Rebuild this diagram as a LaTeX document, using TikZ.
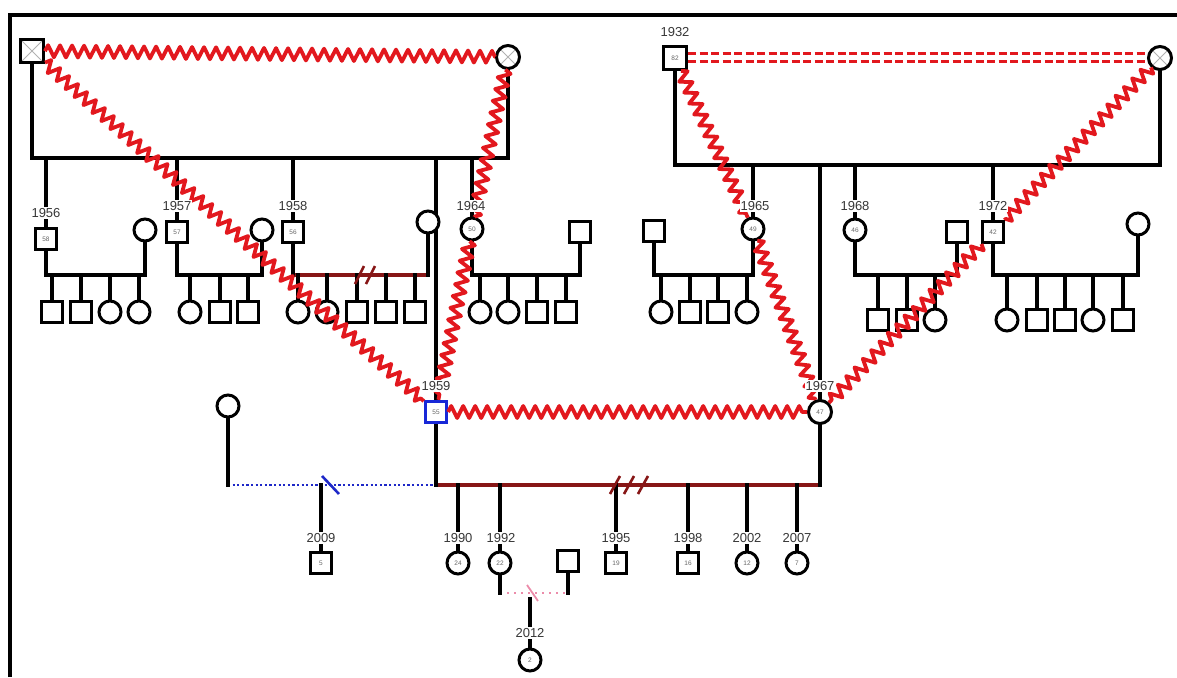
\documentclass[tikz,border=0pt]{standalone}
\usepackage{fontspec}
\setmainfont{Liberation Sans}
\usetikzlibrary{decorations.pathmorphing,calc}
\pgfdeclarelayer{bg}
\pgfdeclarelayer{fg}
\pgfsetlayers{bg,main,fg}
\definecolor{zzred}{RGB}{226,24,30}
\definecolor{dred}{RGB}{135,22,22}
\definecolor{idxblue}{RGB}{24,40,215}
\definecolor{exblue}{RGB}{30,40,200}
\definecolor{pinkl}{RGB}{236,140,170}
\definecolor{yrgray}{RGB}{55,55,55}
\newcommand{\agefont}{\fontsize{6.5}{6.5}\selectfont}
\newcommand{\yrfont}{\fontsize{13}{13}\selectfont}
\begin{document}
\begin{tikzpicture}[x=1pt,y=-1pt,
  pm/.style={draw,rectangle,line width=3pt,minimum size=21pt,fill=white,inner sep=0pt,font=\agefont,text=gray!80!black},
  pf/.style={draw,circle,line width=3pt,minimum size=22pt,fill=white,inner sep=0pt,font=\agefont,text=gray!80!black},
  big/.style={minimum size=23pt},
  dead/.style={path picture={\draw[gray!60,line width=1pt]
      (path picture bounding box.south west) -- (path picture bounding box.north east)
      (path picture bounding box.north west) -- (path picture bounding box.south east);}},
  yr/.style={fill=white,inner sep=1pt,font=\yrfont,text=yrgray},
  ln/.style={line width=3.2pt,draw=black,line cap=rect},
  sepred/.style={line width=3.2pt,draw=dred},
  exline/.style={line width=2.8pt,draw=exblue,dash pattern=on 2.2pt off 2.4pt},
  pinkline/.style={line width=2pt,draw=pinkl,dash pattern=on 2pt off 5pt},
  zz/.style={draw=zzred,line width=3.8pt,line join=round,decorate,
      decoration={zigzag,segment length=12pt,amplitude=6pt}},
  dashred/.style={draw=zzred,line width=3pt,dash pattern=on 8pt off 3.5pt},
  slash/.style={line width=2.6pt}
]
\useasboundingbox (0,0) rectangle (1177,677);

% frame
\draw[line width=3.5pt] (10,677) -- (10,15) -- (1177,15);

% ---------- generation I ----------
\node[pm,dead,big] (gf) at (32,51) {};
\node[pf,dead,big] (gm) at (508,57) {};
\node[pm,big] (mgf) at (675,58) {82};
\node[pf,dead,big] (mgm) at (1160,58) {};

% ---------- generation II ----------
\node[pm] (a56) at (46,239) {58};
\node[pf] (w56) at (145,230) {};
\node[pm] (a57) at (177,232) {57};
\node[pf] (w57) at (262,230) {};
\node[pm] (a58) at (293,232) {56};
\node[pf] (w58) at (428,222) {};
\node[pf] (a64) at (472,229) {50};
\node[pm] (h64) at (580,232) {};
\node[pm] (h65) at (654,231) {};
\node[pf] (a65) at (753,229) {49};
\node[pf] (a68) at (855,230) {46};
\node[pm] (h68) at (957,232) {};
\node[pm] (a72) at (993,232) {42};
\node[pf] (w72) at (1138,224) {};

% cousins
\foreach \n/\s/\x in {c561/pm/52,c562/pm/81,c563/pf/110,c564/pf/139,
    c571/pf/190,c572/pm/220,c573/pm/248,
    c581/pf/298,c582/pf/327,c583/pm/357,c584/pm/386,c585/pm/415,
    c641/pf/480,c642/pf/508,c643/pm/537,c644/pm/566,
    c651/pf/661,c652/pm/690,c653/pm/718,c654/pf/747}
  \node[\s] (\n) at (\x,312) {};
\foreach \n/\s/\x in {c681/pm/878,c682/pm/907,c683/pf/935,
    c721/pf/1007,c722/pm/1037,c723/pm/1065,c724/pf/1093,c725/pm/1123}
  \node[\s] (\n) at (\x,320) {};

% ---------- generation III ----------
\node[pm,draw=idxblue,line width=3.4pt] (idx) at (436,412) {55};
\node[pf,big] (w67) at (820,412) {47};
\node[pf] (ex) at (228,406) {};

% ---------- generation IV ----------
\node[pm] (k09) at (321,563) {5};
\node[pf] (k90) at (458,563) {24};
\node[pf] (k92) at (500,563) {22};
\node[pm] (p92) at (568,561) {};
\node[pm] (k95) at (616,563) {19};
\node[pm] (k98) at (688,563) {16};
\node[pf] (k02) at (747,563) {12};
\node[pf] (k07) at (797,563) {7};

% ---------- generation V ----------
\node[pf] (g12) at (530,660) {2};

% ---------- birth years ----------
\begin{pgfonlayer}{fg}
\node[yr] (y32) at (675,32) {1932};
\node[yr] (y56) at (46,213) {1956};
\node[yr] (y57) at (177,206) {1957};
\node[yr] (y58) at (293,206) {1958};
\node[yr] (y64) at (471,206) {1964};
\node[yr] (y65) at (755,206) {1965};
\node[yr] (y68) at (855,206) {1968};
\node[yr] (y72) at (993,206) {1972};
\node[yr] (y59) at (436,386) {1959};
\node[yr] (y67) at (820,386) {1967};
\node[yr] (yk09) at (321,538) {2009};
\node[yr] (yk90) at (458,538) {1990};
\node[yr] (yk92) at (501,538) {1992};
\node[yr] (yk95) at (616,538) {1995};
\node[yr] (yk98) at (688,538) {1998};
\node[yr] (yk02) at (747,538) {2002};
\node[yr] (yk07) at (797,538) {2007};
\node[yr] (yg12) at (530,633) {2012};
\end{pgfonlayer}

% ---------- structural lines ----------
\begin{pgfonlayer}{bg}
\coordinate (s1) at (0,158);
\coordinate (s2) at (0,165);
\coordinate (f1) at (0,275);
\coordinate (f2) at (0,485);
\coordinate (f3) at (0,593);

% sibships
\draw[ln] (gf) |- (gm |- s1) -- (gm);
\foreach \n/\y in {a56/y56,a57/y57,a58/y58,a64/y64,idx/y59}
  \draw[ln] (\n.north) -- (\n.north |- \y.south) (\n |- \y.north) -- (\n |- s1);
\draw[ln] (mgf) |- (mgm |- s2) -- (mgm);
\foreach \n/\y in {a65/y65,w67/y67,a68/y68,a72/y72}
  \draw[ln] (\n.north) -- (\n.north |- \y.south) (\n |- \y.north) -- (\n |- s2);

% couples of generation II
\draw[ln] (a56) |- (w56 |- f1) -- (w56);
\draw[ln] (a57) |- (w57 |- f1) -- (w57);
\draw[sepred] (a58 |- f1) -- (w58 |- f1);
\draw[ln] (a58) -- (a58 |- f1);
\draw[ln] (w58) -- (w58 |- f1);
\draw[ln] (a64) |- (h64 |- f1) -- (h64);
\draw[ln] (h65) |- (a65 |- f1) -- (a65);
\draw[ln] (a68) |- (h68 |- f1) -- (h68);
\draw[ln] (a72) |- (w72 |- f1) -- (w72);
\foreach \n in {c561,c562,c563,c564,c571,c572,c573,c581,c582,c583,c584,c585,
    c641,c642,c643,c644,c651,c652,c653,c654,c681,c682,c683,
    c721,c722,c723,c724,c725}
  \draw[ln] (\n) -- (\n |- f1);

% couples of generation III
\draw[sepred] (idx |- f2) -- (w67 |- f2);
\draw[exline] (ex |- f2) -- (idx |- f2);
\draw[ln] (idx) -- (idx |- f2);
\draw[ln] (w67) -- (w67 |- f2);
\draw[ln] (ex) -- (ex |- f2);
\foreach \n/\y in {k09/yk09,k90/yk90,k92/yk92,k95/yk95,k98/yk98,k02/yk02,k07/yk07}
  \draw[ln] (\n.north) -- (\n.north |- \y.south) (\n |- \y.north) -- (\n |- f2);

% couple of generation IV
\draw[pinkline] (k92 |- f3) -- (p92 |- f3);
\draw[ln] (k92) -- (k92 |- f3);
\draw[ln] (p92) -- (p92 |- f3);
\draw[ln] (g12.north) -- (g12.north |- yg12.south) (g12 |- yg12.north) -- ($(g12 |- f3)+(0,6)$);
\end{pgfonlayer}

% separation / divorce marks
\draw[slash,dred] (355,284) -- (364,266) (366,284) -- (375,266);
\draw[slash,dred] (610,494) -- (620,476) (624,494) -- (634,476) (638,494) -- (648,476);
\draw[slash,exblue] (322,476) -- (339,494);
\draw[slash,pinkl,line width=1.8pt] (527,585) -- (538,601);

% ---------- emotional relationships ----------
\draw[dashred] ([yshift=4pt]mgf.east) -- ([yshift=4pt]mgm.west);
\draw[dashred] ([yshift=-4pt]mgf.east) -- ([yshift=-4pt]mgm.west);
\draw[zz] (gf) -- (gm);
\draw[zz] (gf) -- (idx);
\draw[zz] (gm) -- (a64);
\draw[zz] (a64) -- (idx);
\draw[zz] (mgf) -- (a65);
\draw[zz] (a65) -- (w67);
\draw[zz] (mgm) -- (a72);
\draw[zz] (a72) -- (w67);
\draw[zz] (idx) -- (w67);
\end{tikzpicture}
\end{document}
